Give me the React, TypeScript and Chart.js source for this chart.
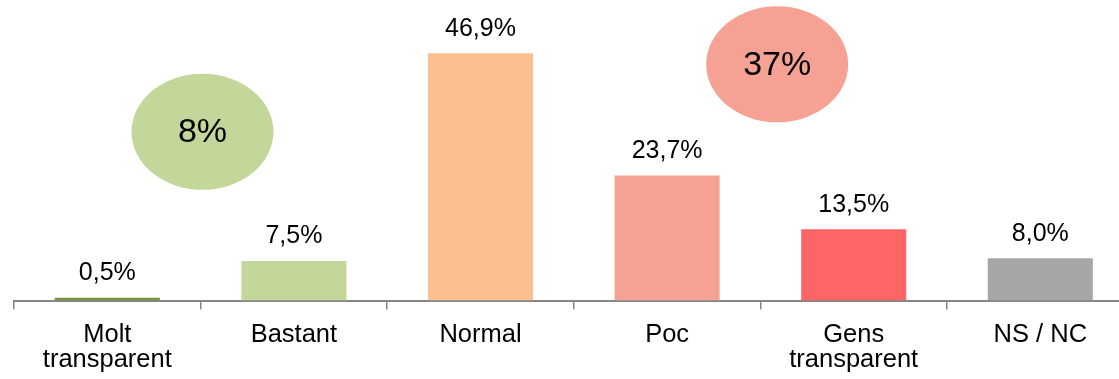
import React, { useEffect, useRef } from "react";
import { Chart, registerables } from "chart.js";

Chart.register(...registerables);

const categories: (string | string[])[] = [
  ["Molt", "transparent"],
  "Bastant",
  "Normal",
  "Poc",
  ["Gens", "transparent"],
  "NS / NC",
];
const values: number[] = [0.5, 7.5, 46.9, 23.7, 13.5, 8.0];
const barColors: string[] = ["#77933C", "#C4D79B", "#FAC090", "#F5A294", "#FF6565", "#A6A6A6"];

// Summary bubbles: label, x position on category scale, y position on value scale, colour
const bubbleLabels: string[] = ["8%", "37%"];
const bubbleX: number[] = [0.51, 3.59];
const bubbleY: number[] = [32.0, 44.8];
const bubbleColors: string[] = ["#C4D79B", "#F5A294"];

const FONT = "'Liberation Sans', Arial, sans-serif";

const overlayPlugin = {
  id: "overlay",
  afterDatasetsDraw(chart: any) {
    const ctx = chart.ctx;
    const meta = chart.getDatasetMeta(0);
    ctx.save();
    ctx.fillStyle = "#000";
    ctx.font = `25px ${FONT}`;
    ctx.textAlign = "center";
    ctx.textBaseline = "alphabetic";
    meta.data.forEach((el: any, i: number) => {
      const txt = values[i].toFixed(1).replace(".", ",") + "%";
      ctx.fillText(txt, el.x, el.y - 17.5);
    });
    const xs = chart.scales.x;
    const ys = chart.scales.y;
    bubbleLabels.forEach((lab, i) => {
      const cx = xs.getPixelForDecimal((bubbleX[i] + 0.5) / categories.length);
      const cy = ys.getPixelForValue(bubbleY[i]);
      ctx.beginPath();
      ctx.ellipse(cx, cy, 71, 58, 0, 0, Math.PI * 2);
      ctx.fillStyle = bubbleColors[i];
      ctx.fill();
      ctx.fillStyle = "#000";
      ctx.font = `34px ${FONT}`;
      ctx.textBaseline = "middle";
      ctx.fillText(lab, cx, cy + 1);
    });
    ctx.restore();
  },
};

export default function App() {
  const ref = useRef<HTMLCanvasElement>(null);
  useEffect(() => {
    if (!ref.current) return;
    const chart = new Chart(ref.current, {
      type: "bar",
      data: {
        labels: categories,
        datasets: [
          {
            data: values,
            backgroundColor: barColors,
            borderWidth: 0,
            categoryPercentage: 1,
            barPercentage: 0.563,
          },
        ],
      },
      options: {
        responsive: false,
        animation: false,
        layout: { padding: { left: 14, right: 6.4, top: 0, bottom: 6.5 } },
        plugins: { legend: { display: false }, tooltip: { enabled: false } },
        scales: {
          x: {
            offset: true,
            grid: {
              display: true,
              drawOnChartArea: false,
              drawTicks: true,
              tickLength: 9,
              color: "#868686",
              lineWidth: 1.5,
              offset: true,
            },
            border: { display: true, color: "#868686", width: 2 },
            ticks: {
              color: "#000",
              padding: 12.5,
              maxRotation: 0,
              autoSkip: false,
              font: { family: FONT, size: 25.5, lineHeight: "25px" } as any,
            },
          },
          y: {
            display: false,
            min: 0,
            max: 57,
          },
        },
      },
      plugins: [overlayPlugin],
    });
    return () => chart.destroy();
  }, []);
  return (
    <div
      style={{
        position: "absolute",
        left: 0,
        top: 0,
        width: 1119,
        height: 379,
        overflow: "hidden",
        background: "#fff",
      }}
    >
      <canvas ref={ref} width={1140} height={391} style={{ width: 1140, height: 391 }} />
    </div>
  );
}
